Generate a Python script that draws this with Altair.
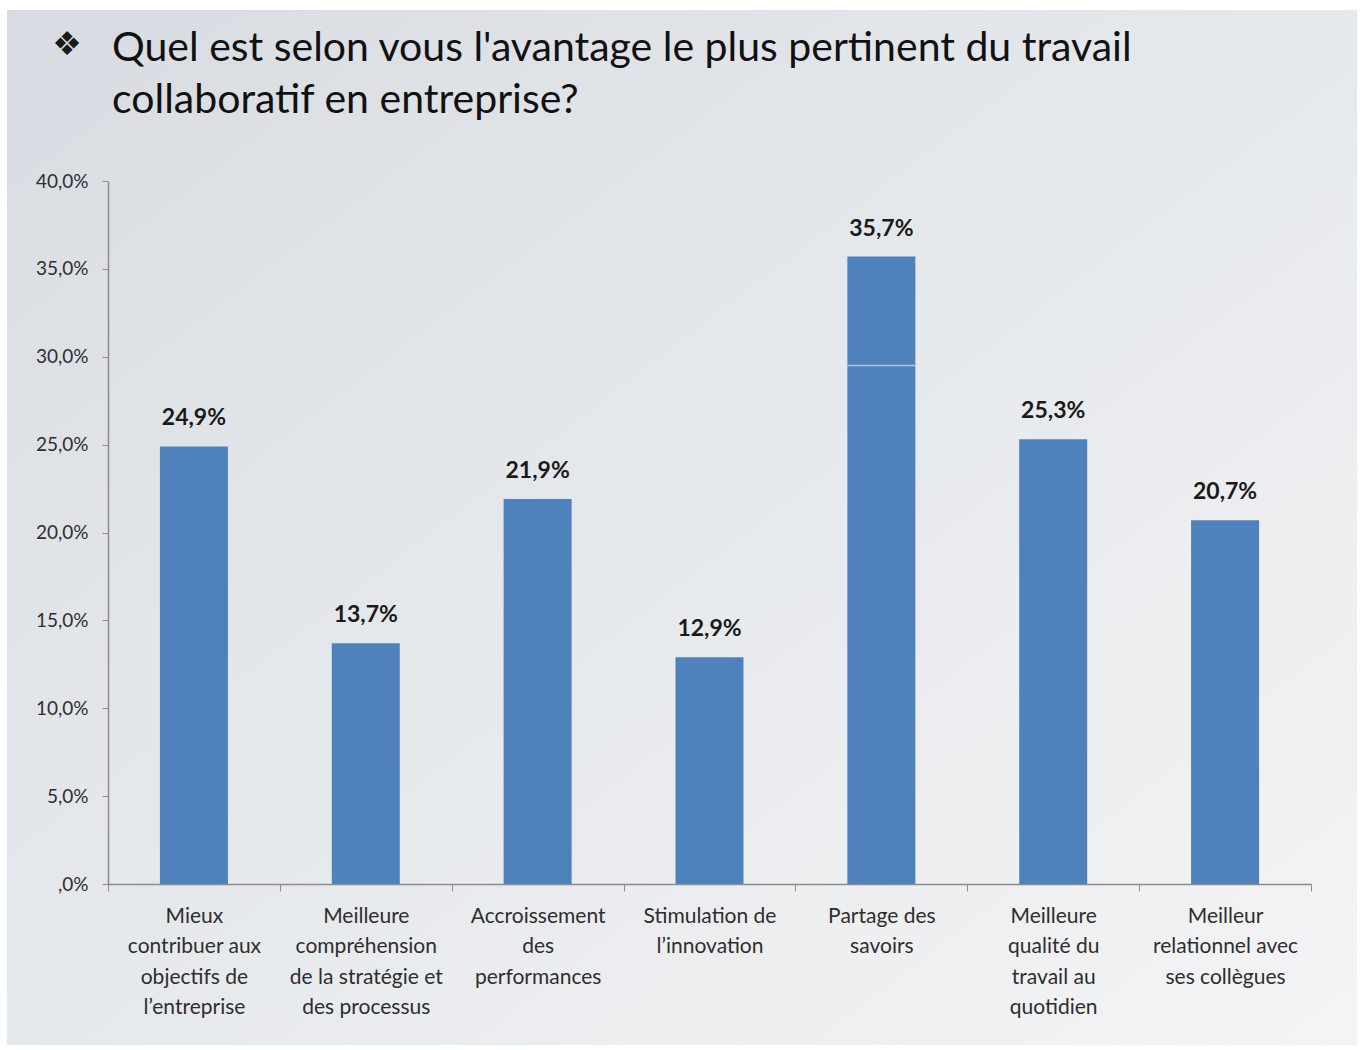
import altair as alt
import pandas as pd

# ---- data ----
categories = [
    "Mieux|contribuer aux|objectifs de|l’entreprise",
    "Meilleure|compréhension|de la stratégie et|des processus",
    "Accroissement|des|performances",
    "Stimulation de|l’innovation",
    "Partage des|savoirs",
    "Meilleure|qualité du|travail au|quotidien",
    "Meilleur|relationnel avec|ses collègues",
]
values = [24.9, 13.7, 21.9, 12.9, 35.7, 25.3, 20.7]
value_labels = ["24,9%", "13,7%", "21,9%", "12,9%", "35,7%", "25,3%", "20,7%"]
y_ticks = [0, 5, 10, 15, 20, 25, 30, 35, 40]
title_line1 = "Quel est selon vous l'avantage le plus pertinent du travail"
title_line2 = "collaboratif en entreprise?"
bullet = "❖"
# thin light line visible inside the "Partage des savoirs" bar
artifact_cat = ["Partage des|savoirs"]
artifact_val = [29.5]

df = pd.DataFrame({"cat": categories, "val": values, "lab": value_labels})
art = pd.DataFrame({"cat": artifact_cat, "val": artifact_val})
one = pd.DataFrame({"t1": [title_line1], "t2": [title_line2], "b": [bullet]})

W, H = 1203, 703
FONT = "Lato"
BAR_W = 68

xscale = alt.Scale(paddingInner=0, paddingOuter=0)
xenc = alt.X(
    "cat:N",
    sort=categories,
    scale=xscale,
    axis=alt.Axis(
        title=None,
        labelAngle=0,
        labelExpr="split(datum.label, '|')",
        labelFont=FONT,
        labelFontSize=21,
        labelColor="#2e2e2e",
        labelLineHeight=30.5,
        labelBaseline="top",
        labelPadding=14,
        labelLimit=400,
        tickBand="extent",
        tickSize=7,
        tickColor="#8c8c8c",
        domainColor="#8c8c8c",
        domainWidth=1.5,
        zindex=1,
    ),
)
yscale = alt.Scale(domain=[0, 40], nice=False)
yenc = alt.Y(
    "val:Q",
    scale=yscale,
    axis=alt.Axis(
        title=None,
        values=y_ticks,
        labelExpr="datum.value == 0 ? ',0%' : replace(format(datum.value, '.1f'), '.', ',') + '%'",
        labelFont=FONT,
        labelFontSize=19,
        labelColor="#2e2e2e",
        labelPadding=14,
        tickSize=6,
        tickColor="#8c8c8c",
        domainColor="#8c8c8c",
        domainWidth=1.5,
        grid=False,
        zindex=1,
    ),
)

gradient = alt.Gradient(
    gradient="linear",
    stops=[
        alt.GradientStop(color="#d8dce2", offset=0),
        alt.GradientStop(color="#e6e9ec", offset=0.5),
        alt.GradientStop(color="#f3f4f5", offset=1),
    ],
    x1=0, y1=0, x2=1, y2=1,
)

bg = alt.Chart(one).mark_rect(fill=gradient).encode(
    x=alt.value(-101), x2=alt.value(1249), y=alt.value(-171), y2=alt.value(864)
)

bars = alt.Chart(df).mark_bar(color="#4f81bd", size=BAR_W).encode(x=xenc, y=yenc)

labels = alt.Chart(df).mark_text(
    font=FONT, fontSize=23, fontWeight="bold", color="#1a1a1a",
    baseline="bottom", dy=-16,
).encode(x=alt.X("cat:N", sort=categories, scale=xscale), y=alt.Y("val:Q", scale=yscale), text="lab:N")

artifact = alt.Chart(art).mark_tick(color="#dbe5f1", thickness=1.5, size=BAR_W).encode(
    x=alt.X("cat:N", sort=categories, scale=xscale), y=alt.Y("val:Q", scale=yscale)
)

t1 = alt.Chart(one).mark_text(
    font=FONT, fontSize=41, color="#111111", align="left", baseline="alphabetic"
).encode(x=alt.value(4), y=alt.value(-120), text="t1:N")
t2 = alt.Chart(one).mark_text(
    font=FONT, fontSize=41, color="#111111", align="left", baseline="alphabetic"
).encode(x=alt.value(4), y=alt.value(-68), text="t2:N")
tb = alt.Chart(one).mark_text(
    font="DejaVu Sans", fontSize=33, color="#1a1a1a", align="center", baseline="middle"
).encode(x=alt.value(-41), y=alt.value(-136), text="b:N")

chart = (
    alt.layer(bg, bars, artifact, labels, t1, t2, tb)
    .properties(
        width=W,
        height=H,
        autosize=alt.AutoSizeParams(type="none"),
        padding={"left": 108, "top": 181, "right": 51, "bottom": 166},
        background="white",
    )
    .configure_view(stroke=None)
)

chart.save("out.html", embed_options={"renderer": "svg", "actions": False})
